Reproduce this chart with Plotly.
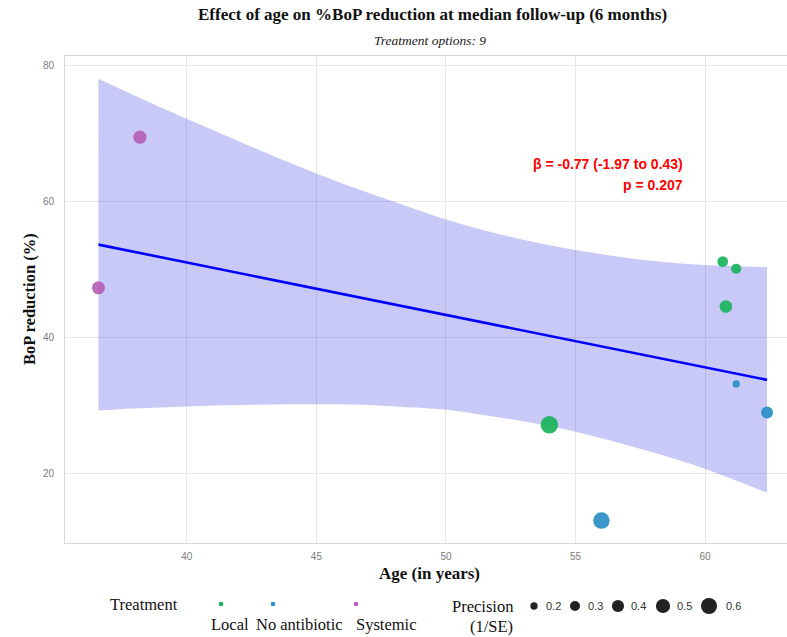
import plotly.graph_objects as go

# ---------------- data ----------------
local_age = [60.68, 61.20, 60.80, 53.99]
local_bop = [51.2, 50.15, 44.6, 27.2]
local_prec = [0.33, 0.31, 0.42, 0.69]

noab_age = [56.0, 61.2, 62.39]
noab_bop = [13.1, 33.2, 29.0]
noab_prec = [0.63, 0.20, 0.39]

sys_age = [38.19, 36.59]
sys_bop = [69.5, 47.35]
sys_prec = [0.45, 0.44]

fit_age = [36.59, 62.39]
fit_bop = [53.7, 33.8]

band_age = [36.59, 38, 40, 42, 44, 46, 48, 50, 52, 54, 56, 58, 60, 62.39]
band_upper = [78.1, 75.6, 72.2, 68.9, 65.7, 62.7, 60.0, 57.4, 55.3, 53.6, 52.3, 51.3, 50.7, 50.4]
band_lower = [29.3, 29.6, 29.9, 30.1, 30.2, 30.2, 29.9, 29.4, 28.3, 27.0, 25.2, 23.1, 20.7, 17.2]

x_ticks = [40, 45, 50, 55, 60]
y_ticks = [20, 40, 60, 80]
prec_breaks = [0.2, 0.3, 0.4, 0.5, 0.6]
treat_names = ["Local", "No antibiotic", "Systemic"]

title_text = "Effect of age on %BoP reduction at median follow-up (6 months)"
subtitle_text = "Treatment options: 9"
beta_text = "β = -0.77 (-1.97 to 0.43)"
p_text = "p = 0.207"

# ---------------- style ----------------
C_LOCAL = "#19B35B"
C_NOAB = "#2A8DC5"
C_SYS = "#B55FB5"
SERIF = "Liberation Serif, Times New Roman, serif"
NARROW = "Liberation Sans Narrow, Arial Narrow, Liberation Sans, Arial, sans-serif"
SANS = "Liberation Sans, Arial, sans-serif"

W, H = 787, 637
ML, MR, MT, MB = 65, 0, 56, 94
PW, PH = W - ML - MR, H - MT - MB


def px(x):
    return (x - ML) / PW


def py(y):
    return (H - MB - y) / PH


def size_of(p):
    return -4.55 + 26.5 * p ** 0.5


fig = go.Figure()

# confidence band
fig.add_trace(go.Scatter(
    x=band_age, y=band_lower, mode="lines", line=dict(width=0, shape="spline"),
    hoverinfo="skip", showlegend=False))
fig.add_trace(go.Scatter(
    x=band_age, y=band_upper, mode="lines", line=dict(width=0, shape="spline"),
    fill="tonexty", fillcolor="rgba(0,0,220,0.21)",
    hoverinfo="skip", showlegend=False))

# regression line
fig.add_trace(go.Scatter(x=fit_age, y=fit_bop, mode="lines",
                         line=dict(color="#0000FF", width=2.6),
                         hoverinfo="skip", showlegend=False))

for ages, vals, prec, col in [(local_age, local_bop, local_prec, C_LOCAL),
                              (noab_age, noab_bop, noab_prec, C_NOAB),
                              (sys_age, sys_bop, sys_prec, C_SYS)]:
    fig.add_trace(go.Scatter(
        x=ages, y=vals, mode="markers",
        marker=dict(color=col, size=[size_of(p) for p in prec], opacity=0.92,
                    line=dict(width=0)),
        hoverinfo="skip", showlegend=False))

ann = []
shapes = []

# titles
ann.append(dict(text=f"<b>{title_text}</b>", x=px(432), y=py(15), xref="paper", yref="paper",
                showarrow=False, xanchor="center", yanchor="middle",
                font=dict(family=SERIF, size=17, color="#111111")))
ann.append(dict(text=f"<i>{subtitle_text}</i>", x=px(430), y=py(41), xref="paper", yref="paper",
                showarrow=False, xanchor="center", yanchor="middle",
                font=dict(family=SERIF, size=13.5, color="#222222")))
# axis titles
ann.append(dict(text="<b>Age (in years)</b>", x=px(430), y=py(573), xref="paper", yref="paper",
                showarrow=False, xanchor="center", yanchor="middle",
                font=dict(family=SERIF, size=17, color="#111111")))
ann.append(dict(text="<b>BoP reduction (%)</b>", x=px(29), y=py(299), xref="paper", yref="paper",
                showarrow=False, xanchor="center", yanchor="middle", textangle=-90,
                font=dict(family=SERIF, size=16.5, color="#111111")))
# stats text
ann.append(dict(text=f"<b>{beta_text}</b>", x=px(685), y=py(164), xref="paper", yref="paper",
                showarrow=False, xanchor="right", yanchor="middle",
                font=dict(family=SANS, size=14, color="#FF0000")))
ann.append(dict(text=f"<b>{p_text}</b>", x=px(685), y=py(185), xref="paper", yref="paper",
                showarrow=False, xanchor="right", yanchor="middle",
                font=dict(family=SANS, size=14, color="#FF0000")))

# legend: treatment
ann.append(dict(text="Treatment", x=px(108), y=py(604), xref="paper", yref="paper",
                showarrow=False, xanchor="left", yanchor="middle",
                font=dict(family=SERIF, size=16.5, color="#111111")))
dot_x = [221, 273, 356]
lab_x = [230, 299, 386]
for name, col, dx, lx in zip(treat_names, [C_LOCAL, C_NOAB, C_SYS], dot_x, lab_x):
    shapes.append(dict(type="circle", xref="paper", yref="paper", xsizemode="pixel",
                       ysizemode="pixel", xanchor=px(dx), yanchor=py(604),
                       x0=-2.3, x1=2.3, y0=-2.3, y1=2.3, fillcolor=col, line=dict(width=0)))
    ann.append(dict(text=name, x=px(lx), y=py(624), xref="paper", yref="paper",
                    showarrow=False, xanchor="center", yanchor="middle",
                    font=dict(family=SERIF, size=16.5, color="#111111")))

# legend: precision
ann.append(dict(text="Precision", x=px(515), y=py(606), xref="paper", yref="paper",
                showarrow=False, xanchor="right", yanchor="middle",
                font=dict(family=SERIF, size=16.5, color="#111111")))
ann.append(dict(text="(1/SE)", x=px(515), y=py(626), xref="paper", yref="paper",
                showarrow=False, xanchor="right", yanchor="middle",
                font=dict(family=SERIF, size=16.5, color="#111111")))
circ_x = [534, 575, 618, 663, 709]
clab_x = [553, 595, 638, 684, 733]
for b, cx, lx in zip(prec_breaks, circ_x, clab_x):
    r = size_of(b) / 2
    shapes.append(dict(type="circle", xref="paper", yref="paper", xsizemode="pixel",
                       ysizemode="pixel", xanchor=px(cx), yanchor=py(606),
                       x0=-r, x1=r, y0=-r, y1=r, fillcolor="#222222", line=dict(width=0)))
    ann.append(dict(text=f"{b:.1f}", x=px(lx), y=py(606), xref="paper", yref="paper",
                    showarrow=False, xanchor="center", yanchor="middle",
                    font=dict(family=NARROW, size=11, color="#333333")))

fig.update_layout(
    width=W, height=H,
    margin=dict(l=ML, r=MR, t=MT, b=MB),
    paper_bgcolor="white", plot_bgcolor="white",
    showlegend=False,
    annotations=ann, shapes=shapes,
    hovermode=False,
    xaxis=dict(range=[35.3, 63.16], tickvals=x_ticks, ticktext=[str(v) for v in x_ticks],
               showgrid=True, gridcolor="#E8E8E8", gridwidth=1, zeroline=False,
               showline=True, linecolor="#D9D9D9", linewidth=1, mirror=True,
               ticks="outside", ticklen=4, tickcolor="rgba(0,0,0,0)",
               tickfont=dict(family=NARROW, size=10, color="#7A7A7A")),
    yaxis=dict(range=[9.8, 81.45], tickvals=y_ticks, ticktext=[str(v) for v in y_ticks],
               showgrid=True, gridcolor="#E8E8E8", gridwidth=1, zeroline=False,
               showline=True, linecolor="#D9D9D9", linewidth=1, mirror=False,
               ticks="outside", ticklen=8, tickcolor="rgba(0,0,0,0)",
               tickfont=dict(family=NARROW, size=10, color="#7A7A7A")),
)

fig.write_html("out.html", config={"displayModeBar": False},
               post_script="document.body.style.margin='0';document.body.style.overflow='hidden';")
